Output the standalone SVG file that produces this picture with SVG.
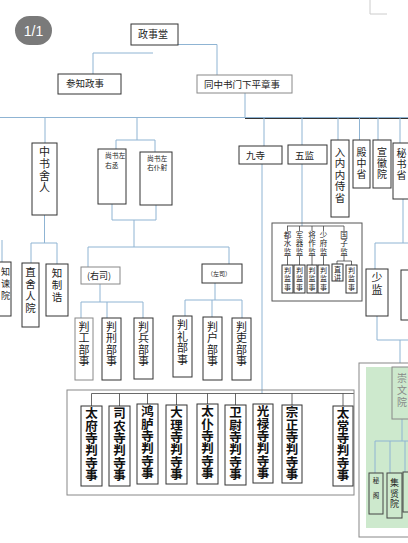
<svg xmlns="http://www.w3.org/2000/svg" width="408" height="543" viewBox="0 0 408 543">
<style>
.b{fill:#fff;stroke:#333;stroke-width:1}
.bg{fill:#fff;stroke:#888;stroke-width:1}
.c{fill:none;stroke:#8fb4d3;stroke-width:1}
.d{fill:none;stroke:#444;stroke-width:0.8}
.t{font-family:"Noto Sans CJK SC","Noto Sans CJK JP",sans-serif;fill:#222}
.v{writing-mode:vertical-rl;text-orientation:upright}
.s{font-size:7.5px;letter-spacing:1px}
.x{font-size:7px;letter-spacing:1.5px}
.k{font-size:12.5px;font-weight:700;fill:#111;letter-spacing:-0.1px}
.p{font-size:11px;letter-spacing:0.5px}
</style>
<rect width="408" height="543" fill="#fff"/>
<path d="M370,0V14H387" fill="none" stroke="#ccc"/>
<g id="badge"><rect x="15" y="16" width="37" height="29" rx="14.5" fill="#7a7a7a"/><text x="33.5" y="36" text-anchor="middle" font-family="Liberation Sans,sans-serif" font-size="14" fill="#fff">1/1</text></g>

<g id="connectors">
<path class="c" d="M153,44.5H217V75M153,53H93V74M245,93V118M0,117.5H408"/>
<path d="M245,118.5H408" stroke="#333" fill="none"/>
<path class="c" d="M45,118V143M137,118V140M264,118V146M302,118V145M338,118V140M359.5,118V140M378,118V140M400,118V143"/>
<path class="c" d="M44.5,215V243M31,243H57M31,243V263M57,243V264M2,240V262"/>
<path class="c" d="M116,140H155M116,140V149M155,140V152M112,204V220M156,205V220M112,220H156M134,220V247M88,247H229M88,247V267M229,247V264"/>
<path class="c" d="M100,284V302M81,302H143M81,302V318M107,302V318M143,302V318"/>
<path class="c" d="M215,283V300M185,300H242M185,300V316M212,300V317M242,300V318"/>
<path class="c" d="M262,164V393.5M302,164V226"/>
<path class="c" d="M403,199V243M375,243H408M375,243V269M377,316V340M377,340H408M400,340V367"/>
<path class="d" d="M287,226H344M287.5,226V231M299.5,226V231M312,226V231M323.5,226V231M344,226V231M287.5,256V265M299.5,256V265M312,256V265M323.5,256V265M344,256V261M337,261H351.5M337,261V264M351.5,261V265"/>
<path class="d" d="M91.5,393.5H354M91.5,393.5V406M119.5,393.5V406M147.5,393.5V404M176.5,393.5V405M207.5,393.5V404M235.5,393.5V405M292,393.5V405M343,393.5V406"/>
</g>

<g id="n-zhengshitang"><rect class="b" x="131" y="24" width="47" height="21"/><text class="t" x="138" y="38" font-size="10">政事堂</text></g>
<g id="n-canzhi"><rect class="b" x="58" y="74" width="63" height="20"/><text class="t" x="66" y="86.5" font-size="9.5">参知政事</text></g>
<g id="n-tongzhong"><rect class="bg" x="197" y="75" width="95" height="18"/><text class="t" x="204" y="88" font-size="9.5">同中书门下平章事</text></g>

<g id="n-zhongshusheren"><rect class="b" x="32" y="143" width="25" height="72"/><text class="t v" x="44.5" y="146.5" font-size="11" letter-spacing="1">中书舍人</text></g>
<g id="n-zhijianyuan"><rect class="b" x="-10" y="262" width="21" height="54"/><text class="t v" x="5.5" y="267.5" font-size="9" letter-spacing="3">知谏院</text></g>
<g id="n-zhisherenyuan"><rect class="b" x="22" y="263" width="17" height="64"/><text class="t v" x="30.5" y="266.7" font-size="10.5" letter-spacing="1.5">直舍人院</text></g>
<g id="n-zhizhigao"><rect class="b" x="46" y="264" width="22" height="52"/><text class="t v" x="57" y="267.7" font-size="10.5" letter-spacing="1.5">知制诰</text></g>

<g id="n-youcheng"><rect class="b" x="98" y="149" width="28" height="55"/><text class="t" font-size="6.8"><tspan x="105" y="157.5">尚书左</tspan><tspan x="105" y="167.5">右丞</tspan></text></g>
<g id="n-puye"><rect class="b" x="140" y="152" width="32" height="53"/><text class="t" font-size="6.8"><tspan x="147" y="160.5">尚书左</tspan><tspan x="147" y="169.5">右仆射</tspan></text></g>
<g id="n-yousi"><rect class="bg" x="81" y="267" width="39" height="17"/><text class="t" x="87" y="279" font-size="9">(右司)</text></g>
<g id="n-zuosi"><rect class="b" x="202" y="264" width="40" height="19"/><text class="t" x="207" y="275.5" font-size="6">（左司）</text></g>

<g id="n-gongbu"><rect class="bg" x="75" y="318" width="18" height="62"/><text class="t v p" x="84" y="321">判工部事</text></g>
<g id="n-xingbu"><rect class="b" x="102" y="318" width="19" height="62"/><text class="t v p" x="111.5" y="321">判刑部事</text></g>
<g id="n-bingbu"><rect class="b" x="134" y="318" width="19" height="61"/><text class="t v p" x="143.5" y="321">判兵部事</text></g>
<g id="n-libu"><rect class="b" x="173" y="316" width="19" height="61"/><text class="t v p" x="182.5" y="319.5">判礼部事</text></g>
<g id="n-hubu"><rect class="b" x="203" y="317" width="19" height="63"/><text class="t v p" x="212.5" y="321">判户部事</text></g>
<g id="n-libu2"><rect class="b" x="232" y="318" width="19" height="62"/><text class="t v p" x="241.5" y="321">判吏部事</text></g>

<g id="n-jiusi"><rect class="b" x="239" y="146" width="43" height="18"/><text class="t" x="246" y="159" font-size="9.5">九寺</text></g>
<g id="n-wujian"><rect class="b" x="288" y="145" width="39" height="19"/><text class="t" x="295" y="158.5" font-size="9.5">五监</text></g>
<g id="n-runei"><rect class="b" x="331" y="140" width="18" height="77"/><text class="t v" x="340" y="146.7" font-size="10.5" letter-spacing="1">入内内侍省</text></g>
<g id="n-dianzhong"><rect class="b" x="353" y="140" width="17" height="48"/><text class="t v" x="361.5" y="147" font-size="10" letter-spacing="1">殿中省</text></g>
<g id="n-xuanhui"><rect class="b" x="373" y="140" width="18" height="48"/><text class="t v" x="382" y="147" font-size="10" letter-spacing="1">宣徽院</text></g>
<g id="n-mishu"><rect class="b" x="393" y="143" width="20" height="56"/><text class="t v" x="401.5" y="148" font-size="10" letter-spacing="1">秘书省</text></g>
<g id="n-shaojian"><rect class="b" x="366" y="269" width="22" height="47"/><text class="t v" x="377" y="272.5" font-size="11" letter-spacing="1">少监</text></g>
<g id="n-right"><rect class="b" x="401" y="270" width="12" height="50"/></g>

<g id="g-wujian">
<rect x="272" y="223" width="90" height="78" fill="none" stroke="#555"/>
<text class="t v s" x="287.5" y="231.2">都水监</text>
<text class="t v s" x="299.5" y="231.2">军器监</text>
<text class="t v s" x="312" y="231.2">将作监</text>
<text class="t v s" x="323.5" y="231.2">少府监</text>
<text class="t v s" x="344" y="231.2">国子监</text>
<g id="n-pj1"><rect class="b" x="282" y="265" width="11" height="28"/><text class="t v x" x="287.5" y="266.5">判监事</text></g>
<g id="n-pj2"><rect class="b" x="294" y="265" width="11" height="28"/><text class="t v x" x="299.5" y="266.5">判监事</text></g>
<g id="n-pj3"><rect class="b" x="307" y="265" width="10" height="28"/><text class="t v x" x="312" y="266.5">判监事</text></g>
<g id="n-pj4"><rect class="b" x="318" y="265" width="11" height="28"/><text class="t v x" x="323.5" y="266.5">判监事</text></g>
<g id="n-zhijiang"><rect class="b" x="332" y="264" width="11" height="17"/><text class="t v x" x="337.5" y="265.5" letter-spacing="1">直讲</text></g>
<g id="n-pj5"><rect class="b" x="346" y="265" width="11" height="28"/><text class="t v x" x="351.5" y="266.5">判监事</text></g>
</g>

<g id="g-jiusi">
<rect x="67" y="390" width="287" height="105" fill="none" stroke="#888"/>
<g id="n-s1"><rect class="b" x="81" y="406" width="21" height="80"/><text class="t v k" x="91.5" y="407.2">太府寺判寺事</text></g>
<g id="n-s2"><rect class="b" x="109" y="406" width="21" height="80"/><text class="t v k" x="119.5" y="407.2">司农寺判寺事</text></g>
<g id="n-s3"><rect class="b" x="137" y="404" width="21" height="80"/><text class="t v k" x="147.5" y="405.2">鸿胪寺判寺事</text></g>
<g id="n-s4"><rect class="b" x="166" y="405" width="21" height="79"/><text class="t v k" x="176.5" y="406.2">大理寺判寺事</text></g>
<g id="n-s5"><rect class="b" x="197" y="404" width="21" height="80"/><text class="t v k" x="207.5" y="405.2">太仆寺判寺事</text></g>
<g id="n-s6"><rect class="b" x="225" y="405" width="21" height="80"/><text class="t v k" x="235.5" y="406.2">卫尉寺判寺事</text></g>
<g id="n-s7"><rect class="b" x="253" y="404" width="20" height="79"/><text class="t v k" x="263" y="405.2">光禄寺判寺事</text></g>
<g id="n-s8"><rect class="b" x="282" y="405" width="20" height="78"/><text class="t v k" x="292" y="406.2">宗正寺判寺事</text></g>
<g id="n-s9"><rect class="b" x="333" y="406" width="20" height="80"/><text class="t v k" x="343" y="407.2">太常寺判寺事</text></g>
</g>

<g id="g-chongwen">
<rect x="359" y="363" width="60" height="174" fill="#fff" stroke="#888"/>
<rect x="366" y="367" width="50" height="161" fill="#cde9cd"/>
<path class="c" d="M402,419V441M375,441H408M375,441V473M390,441V473M405,441V472"/>
<g id="n-chongwenyuan"><rect x="392" y="367" width="20" height="52" fill="#cde9cd" stroke="#888"/><text class="t v" x="402" y="373" font-size="10" letter-spacing="2" style="fill:#888">崇文院</text></g>
<g id="n-mige"><rect x="369" y="473" width="14" height="41" fill="#cde9cd" stroke="#444"/><text class="t v" x="376" y="477.7" font-size="6.5" letter-spacing="8.5">秘阁</text></g>
<g id="n-jixian"><rect x="387" y="473" width="15" height="45" fill="#cde9cd" stroke="#444"/><text class="t v" x="394.5" y="478.5" font-size="9" letter-spacing="1.5">集贤院</text></g>
<g id="n-third"><rect x="403" y="472" width="10" height="40" fill="#cde9cd" stroke="#444"/></g>
</g>
</svg>
